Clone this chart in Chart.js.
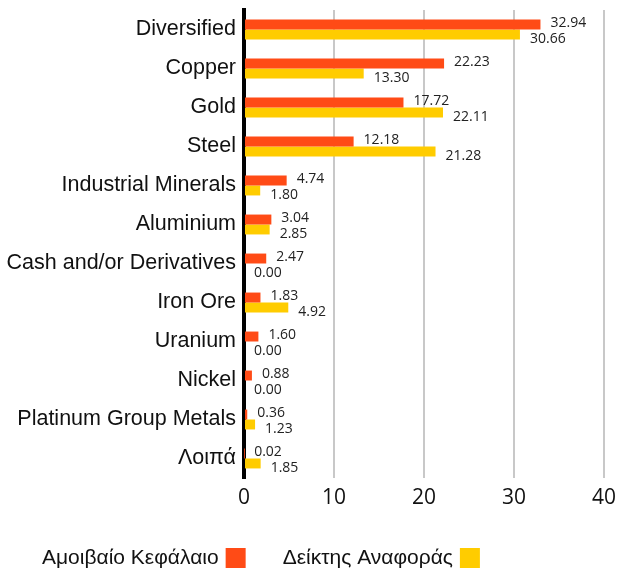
<!DOCTYPE html>
<html>
<head>
<meta charset="utf-8">
<script src="https://cdn.jsdelivr.net/npm/chart.js@4"></script>
<style>
  html, body { margin: 0; padding: 0; background: #fff; }
  #wrap { width: 617px; height: 574px; position: relative; }
</style>
</head>
<body>
<div id="wrap"><canvas id="sectorChart"></canvas></div>
<script>
// Categories and values
const categories = [
  "Diversified", "Copper", "Gold", "Steel", "Industrial Minerals", "Aluminium",
  "Cash and/or Derivatives", "Iron Ore", "Uranium", "Nickel",
  "Platinum Group Metals", "Λοιπά"
];
const fundValues = [32.94, 22.23, 17.72, 12.18, 4.74, 3.04, 2.47, 1.83, 1.60, 0.88, 0.36, 0.02];
const indexValues = [30.66, 13.30, 22.11, 21.28, 1.80, 2.85, 0.00, 4.92, 0.00, 0.00, 1.23, 1.85];
const seriesNames = ["Αμοιβαίο Κεφάλαιο", "Δείκτης Αναφοράς"];
const xTicks = [0, 10, 20, 30, 40];

const ORANGE = "#ff4b16";
const YELLOW = "#ffcc00";

// value labels to the right of each bar
const valueLabels = {
  id: "valueLabels",
  afterDatasetsDraw(chart) {
    const ctx = chart.ctx;
    ctx.save();
    ctx.font = '14px "Open Sans", sans-serif';
    ctx.fillStyle = "#222";
    ctx.textAlign = "left";
    ctx.textBaseline = "middle";
    chart.data.datasets.forEach((ds, di) => {
      const meta = chart.getDatasetMeta(di);
      const dy = di === 0 ? -2 : 5;
      meta.data.forEach((bar, i) => {
        ctx.fillText(ds.data[i].toFixed(2), bar.x + 10, bar.y + dy);
      });
    });
    ctx.restore();
  }
};

// legend with the colour box after the text
const textFirstLegend = {
  id: "textFirstLegend",
  afterDraw(chart) {
    const ctx = chart.ctx;
    ctx.save();
    ctx.font = '21px "Liberation Sans", Arial, sans-serif';
    ctx.textAlign = "left";
    ctx.textBaseline = "middle";
    let x = 42;
    const y = 558;
    chart.data.datasets.forEach((ds) => {
      ctx.fillStyle = "#111";
      ctx.fillText(ds.label, x, y);
      x += ctx.measureText(ds.label).width + 7;
      ctx.fillStyle = ds.backgroundColor;
      ctx.fillRect(x, y - 10, 20, 20);
      x += 20 + 37;
    });
    ctx.restore();
  }
};

const ctx = document.getElementById("sectorChart").getContext("2d");
new Chart(ctx, {
  type: "bar",
  data: {
    labels: categories,
    datasets: [
      { label: seriesNames[0], data: fundValues, backgroundColor: ORANGE },
      { label: seriesNames[1], data: indexValues, backgroundColor: YELLOW }
    ]
  },
  options: {
    indexAxis: "y",
    responsive: true,
    maintainAspectRatio: false,
    animation: false,
    datasets: {
      bar: { categoryPercentage: 0.51, barPercentage: 1.0 }
    },
    layout: { padding: { left: 0, right: 13, top: 10, bottom: 66 } },
    plugins: {
      legend: { display: false },
      tooltip: { enabled: false }
    },
    scales: {
      x: {
        min: xTicks[0],
        max: xTicks[xTicks.length - 1],
        afterBuildTicks: (scale) => { scale.ticks = xTicks.map((v) => ({ value: v })); },
        afterFit: (scale) => {
          scale.height = 30;
          scale.paddingLeft = 0;
          scale.paddingRight = 0;
        },
        grid: { color: "#c8c8c8", lineWidth: 2, drawTicks: false },
        border: { display: false },
        ticks: {
          padding: 7,
          color: "#111",
          font: { family: '"Open Sans", sans-serif', size: 21 }
        }
      },
      y: {
        afterFit: (scale) => {
          scale.width = 244;
          scale.paddingTop = 0;
          scale.paddingBottom = 0;
        },
        grid: { display: false, drawTicks: false },
        border: { display: true, color: "#000", width: 4 },
        ticks: {
          padding: 8,
          color: "#111",
          font: { family: '"Liberation Sans", Arial, sans-serif', size: 21.5 }
        }
      }
    }
  },
  plugins: [valueLabels, textFirstLegend]
});
</script>
</body>
</html>
